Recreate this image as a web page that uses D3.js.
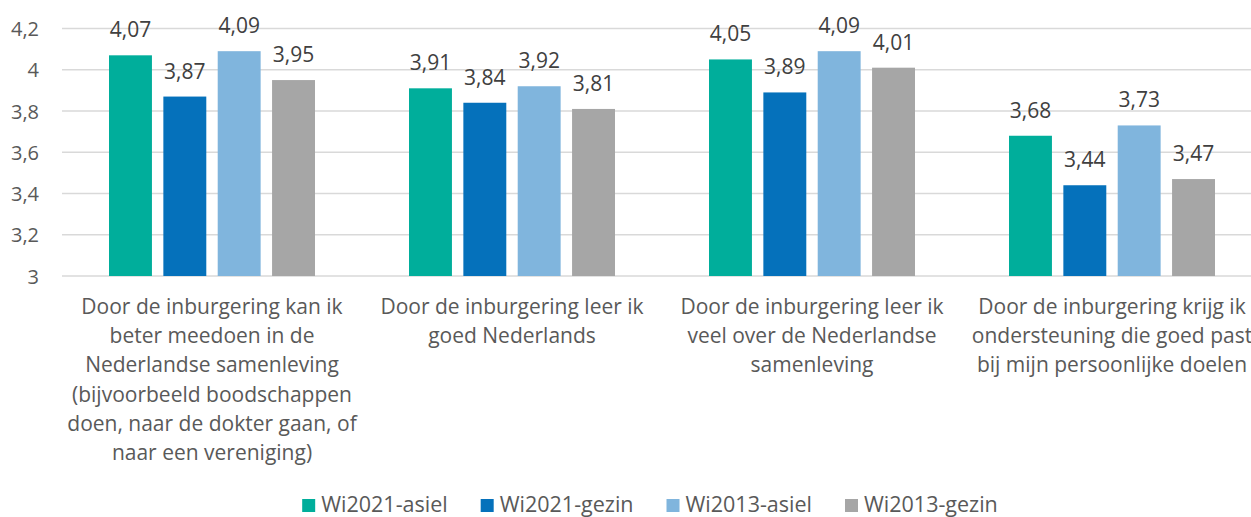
<!DOCTYPE html>
<html>
<head>
<meta charset="utf-8">
<script src="https://cdn.jsdelivr.net/npm/d3@7"></script>
<style>
  body { margin: 0; background: #fff; }
  svg { display: block; font-family: "Open Sans", "Noto Sans", sans-serif; }
</style>
</head>
<body>
<div id="chart"></div>
<script>
// categories (line breaks as in the original)
var categories = [
    "Door de inburgering kan ik|beter meedoen in de|Nederlandse samenleving|(bijvoorbeeld boodschappen|doen, naar de dokter gaan, of|naar een vereniging)",
    "Door de inburgering leer ik|goed Nederlands",
    "Door de inburgering leer ik|veel over de Nederlandse|samenleving",
    "Door de inburgering krijg ik|ondersteuning die goed past|bij mijn persoonlijke doelen"
];
var seriesNames = ["Wi2021-asiel", "Wi2021-gezin", "Wi2013-asiel", "Wi2013-gezin"];
var seriesColors = ["#00ae9b", "#0571bb", "#80b5dd", "#a6a6a6"];
var wi2021Asiel = [4.07, 3.91, 4.05, 3.68];
var wi2021Gezin = [3.87, 3.84, 3.89, 3.44];
var wi2013Asiel = [4.09, 3.92, 4.09, 3.73];
var wi2013Gezin = [3.95, 3.81, 4.01, 3.47];
var yTicks = [3, 3.2, 3.4, 3.6, 3.8, 4, 4.2];

var allSeries = [wi2021Asiel, wi2021Gezin, wi2013Asiel, wi2013Gezin];

var width = 1251, height = 517;
var plot = {left: 62, right: 1262, top: 28.5, bottom: 276};

var svg = d3.select("#chart").append("svg")
    .attr("width", width)
    .attr("height", height);

var fmt = function(v){ return String(v).replace(".", ","); };

var x0 = d3.scaleBand().domain(d3.range(categories.length)).range([plot.left, plot.right]).padding(0);
var x1 = d3.scaleBand().domain(d3.range(seriesNames.length)).range([47, 253]).paddingInner(0.21).paddingOuter(0);
var y = d3.scaleLinear().domain([3, 4.2]).range([plot.bottom, plot.top]);

// gridlines
svg.append("g").selectAll("line").data(yTicks).enter().append("line")
    .attr("x1", plot.left).attr("x2", plot.right)
    .attr("y1", function(d){ return y(d); }).attr("y2", function(d){ return y(d); })
    .style("stroke", "#d9d9d9").style("stroke-width", 1.5);

// y axis labels
var yAxis = d3.axisLeft(y).tickValues(yTicks).tickSize(0).tickPadding(0).tickFormat(fmt);
var yAxisGroup = svg.append("g").attr("transform", "translate(39,0)").call(yAxis);
yAxisGroup.select(".domain").remove();
yAxisGroup.selectAll("text")
    .attr("dy", "0.36em")
    .style("font-size", "20px").style("fill", "#595959").style("font-family", "'Open Sans', 'Noto Sans', sans-serif");

// bars
var groups = svg.append("g").selectAll("g").data(categories).enter().append("g")
    .attr("transform", function(d, i){ return "translate(" + x0(i) + ",0)"; });

groups.each(function(c, ci){
    var g = d3.select(this);
    var vals = allSeries.map(function(s){ return s[ci]; });
    g.selectAll("rect").data(vals).enter().append("rect")
        .attr("x", function(d, si){ return x1(si); })
        .attr("y", function(d){ return y(d); })
        .attr("width", x1.bandwidth())
        .attr("height", function(d){ return y(3) - y(d); })
        .style("fill", function(d, si){ return seriesColors[si]; });
    g.selectAll("text.val").data(vals).enter().append("text")
        .attr("class", "val")
        .attr("x", function(d, si){ return x1(si) + x1.bandwidth() / 2; })
        .attr("y", function(d){ return y(d) - 18; })
        .attr("text-anchor", "middle")
        .style("font-size", "21px").style("fill", "#404040")
        .text(fmt);
});

// category labels
var catLabels = svg.append("g").selectAll("text").data(categories).enter().append("text")
    .attr("x", function(d, i){ return x0(i) + x0.bandwidth() / 2; })
    .attr("y", 314)
    .attr("text-anchor", "middle")
    .style("font-size", "21px").style("fill", "#595959");
catLabels.each(function(d){
    var t = d3.select(this);
    d.split("|").forEach(function(line, li){
        t.append("tspan").attr("x", t.attr("x")).attr("dy", li === 0 ? 0 : 29.2).text(line);
    });
});

// legend
var legend = svg.append("g");
var items = legend.selectAll("g").data(seriesNames).enter().append("g");
items.append("rect").attr("width", 13).attr("height", 13).attr("y", -13)
    .style("fill", function(d, i){ return seriesColors[i]; });
items.append("text").attr("x", 19).attr("y", 0)
    .style("font-size", "21.5px").style("fill", "#595959")
    .text(function(d){ return d; });
var pos = 0;
items.each(function(){
    var w = 19 + this.querySelector("text").getComputedTextLength();
    d3.select(this).attr("transform", "translate(" + pos + ",0)");
    pos += w + 33;
});
var total = pos - 33;
legend.attr("transform", "translate(" + (650 - total / 2) + ",512)");
</script>
</body>
</html>
